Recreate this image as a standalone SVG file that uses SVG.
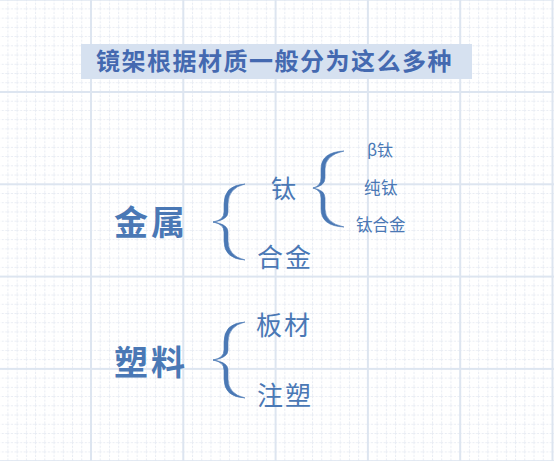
<svg xmlns="http://www.w3.org/2000/svg" width="554" height="461" viewBox="0 0 554 461">
<style>
.t{font-family:"Noto Sans CJK SC","Noto Sans",sans-serif;fill:#4a78b5}
.b{font-weight:bold}
.brace{fill:#4a78b5;stroke:#4a78b5;stroke-width:0.6;stroke-linejoin:round}
</style>
<defs>
<pattern id="minor" width="9.23" height="9.23" patternUnits="userSpaceOnUse" x="-1.8" y="-0.8">
<path d="M0.5,0 V9.23 M0,0.5 H9.23" stroke="#e8ecf3" stroke-width="1" stroke-dasharray="2,1.5" fill="none"/>
</pattern>
<pattern id="major" width="92.3" height="92.3" patternUnits="userSpaceOnUse" x="-2.3" y="-1.3">
<path d="M1,0 V92.3 M0,1 H92.3" stroke="#dde5f0" stroke-width="2" fill="none"/>
</pattern>
</defs>
<rect width="554" height="461" fill="#ffffff"/>
<rect width="554" height="461" fill="url(#minor)"/>
<rect width="554" height="461" fill="url(#major)"/>
<g id="title">
<rect x="81" y="44" width="391" height="35" fill="#d6e1f0"/>
<text class="t b" x="96" y="70" font-size="24" letter-spacing="1.5" style="fill:#4469b0">镜架根据材质一般分为这么多种</text>
</g>
<g id="metal"><text class="t b" x="114" y="235" font-size="34" letter-spacing="3">金属</text></g>
<g id="ti"><text class="t" x="271" y="198" font-size="25">钛</text></g>
<g id="alloy"><text class="t" x="257" y="267" font-size="26" letter-spacing="2">合金</text></g>
<g id="beta-ti"><text class="t" x="367" y="156" font-size="16">β钛</text></g>
<g id="pure-ti"><text class="t" x="364" y="194" font-size="16.5" letter-spacing="0.5">纯钛</text></g>
<g id="ti-alloy"><text class="t" x="356" y="231" font-size="16.5">钛合金</text></g>
<g id="plastic"><text class="t b" x="114" y="375" font-size="34" letter-spacing="3">塑料</text></g>
<g id="sheet"><text class="t" x="256" y="335" font-size="26" letter-spacing="2">板材</text></g>
<g id="injection"><text class="t" x="257" y="405" font-size="26" letter-spacing="2">注塑</text></g>
<g id="connectors">
<path class="brace" d="M245,184 Q224,185 224,204 L224,212 Q224,220 213,222 Q224,224 224,232 L224,241 Q224,259 245,260 Q228,256 228,241 L228,232 Q228,224 213,222 Q228,220 228,212 L228,204 Q228,188 245,184 Z"/>
<path class="brace" d="M344,151 Q321,152 321,169 L321,178 Q321,186 313,188 Q321,190 321,198 L321,209 Q321,226 344,227 Q325,223 325,209 L325,198 Q325,190 313,188 Q325,186 325,178 L325,169 Q325,155 344,151 Z"/>
<path class="brace" d="M245,322 Q224,323 224,342 L224,350 Q224,358 213,360 Q224,362 224,370 L224,379 Q224,397 245,398 Q228,394 228,379 L228,370 Q228,362 213,360 Q228,358 228,350 L228,342 Q228,326 245,322 Z"/>
</g>
</svg>
